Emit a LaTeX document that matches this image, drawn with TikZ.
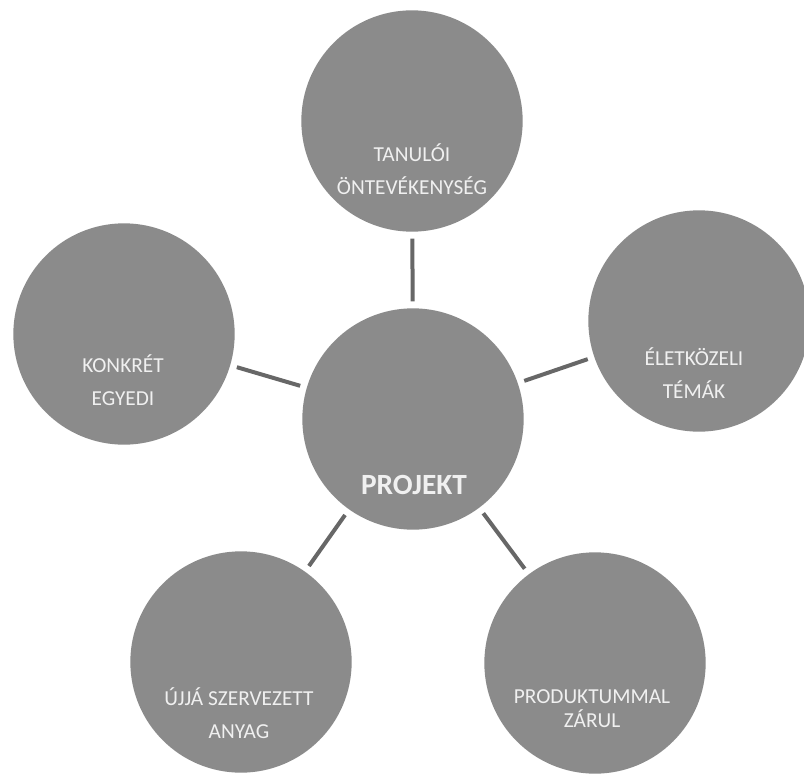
\documentclass[tikz,border=0pt]{standalone}
\usepackage{fontspec}
\setmainfont{Carlito}
\definecolor{ballgray}{HTML}{8B8B8B}
\definecolor{linkgray}{HTML}{676767}
\definecolor{balltextcol}{HTML}{F0F0F0}
\tikzset{
  ball/.style={circle,fill=ballgray,minimum size=166pt,inner sep=0pt},
  balltext/.style={text=balltextcol,font=\fontsize{16}{24.5}\selectfont,align=center},
  link/.style={draw=linkgray,line width=3pt,shorten <=5pt,shorten >=5pt}
}
\begin{document}
\begin{tikzpicture}[x=0.75pt,y=-0.75pt]
\useasboundingbox (0,0) rectangle (804,774);
\node[ball] (proj) at (413,419) {};
\node[ball] (tanuloi) at (412,121) {};
\node[ball] (konkret) at (124,334) {};
\node[ball] (eletkozeli) at (699,321) {};
\node[ball] (ujja) at (241,662) {};
\node[ball] (produktum) at (595,663) {};
\foreach \b in {tanuloi,konkret,eletkozeli,ujja,produktum} \draw[link] (proj) -- (\b);
\node[balltext,font=\bfseries\fontsize{22}{26}\selectfont] (projtext) at (414,485) {PROJEKT};
\node[balltext] (tanuloitext) at (412,169) {TANULÓI\\ÖNTEVÉKENYSÉG};
\node[balltext] (konkrettext) at (123,380) {KONKRÉT\\EGYEDI};
\node[balltext] (eletkozelitext) at (694,373) {ÉLETKÖZELI\\TÉMÁK};
\node[balltext] (ujjatext) at (239,713) {ÚJJÁ SZERVEZETT\\ANYAG};
\node[balltext,font=\fontsize{16}{18}\selectfont] (produktumtext) at (592,709) {PRODUKTUMMAL\\ZÁRUL};
\end{tikzpicture}
\end{document}
